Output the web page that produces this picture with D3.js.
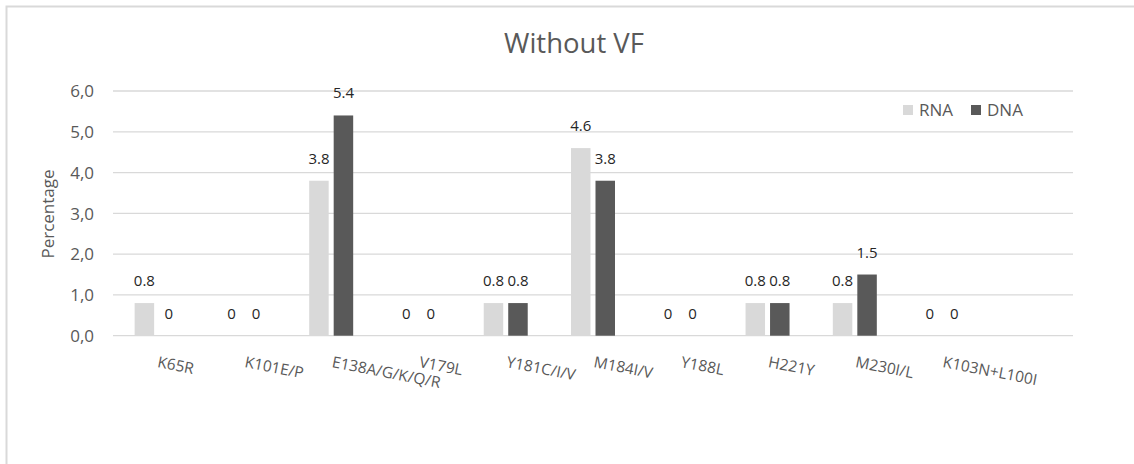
<!DOCTYPE html>
<html>
<head>
<meta charset="utf-8">
<script src="https://cdn.jsdelivr.net/npm/d3@7"></script>
<style>
  html, body { margin: 0; padding: 0; background: #fff; }
  svg { display: block; font-family: "Open Sans", sans-serif; }
</style>
</head>
<body>
<svg id="chart" width="1134" height="464"></svg>
<script>
const categories = ["K65R", "K101E/P", "E138A/G/K/Q/R", "V179L", "Y181C/I/V", "M184I/V", "Y188L", "H221Y", "M230I/L", "K103N+L100I", ""];
const seriesNames = ["RNA", "DNA"];
const rnaValues = [0.8, 0, 3.8, 0, 0.8, 4.6, 0, 0.8, 0.8, 0];
const dnaValues = [0, 0, 5.4, 0, 0.8, 3.8, 0, 0.8, 1.5, 0];
const yTicks = [0, 1, 2, 3, 4, 5, 6];
const title = "Without VF";
const yTitle = "Percentage";

const colors = { RNA: "#d9d9d9", DNA: "#595959" };
const svg = d3.select("#chart");

// border
svg.append("path")
  .attr("d", "M6.5,464 L6.5,6.5 L1134,6.5")
  .attr("fill", "none").attr("stroke", "#d9d9d9").attr("stroke-width", 2);

const plotLeft = 113, plotRight = 1073, plotTop = 91, plotBottom = 335.7;

const x = d3.scaleBand().domain(d3.range(categories.length)).range([plotLeft, plotRight]).padding(0);
const y = d3.scaleLinear().domain([0, 6]).range([plotBottom, plotTop]);

// grid
svg.append("g").selectAll("line").data(yTicks).join("line")
  .attr("x1", plotLeft).attr("x2", plotRight)
  .attr("y1", d => y(d)).attr("y2", d => y(d))
  .attr("stroke", "#d9d9d9").attr("stroke-width", 1.3);

// y axis labels
const yAxis = d3.axisLeft(y).tickValues(yTicks).tickSize(0).tickPadding(0)
  .tickFormat(d => d3.format(".1f")(d).replace(".", ","));
const gy = svg.append("g").attr("transform", `translate(94,0)`).call(yAxis);
gy.select(".domain").remove();
gy.selectAll("text").attr("fill", "#595959").style("font-size", "17px")
  .style("font-family", "Open Sans, sans-serif").attr("dy", "0.34em");

// bars
const barW = 19.5, gap = 5;
const series = [
  { name: "RNA", values: rnaValues, offset: -(gap / 2) - barW },
  { name: "DNA", values: dnaValues, offset: gap / 2 }
];
series.forEach(s => {
  const g = svg.append("g");
  const data = s.values.map((v, i) => ({ v, i }));
  g.selectAll("rect").data(data).join("rect")
    .attr("x", d => x(d.i) + x.bandwidth() / 2 + s.offset)
    .attr("width", barW)
    .attr("y", d => y(d.v))
    .attr("height", d => y(0) - y(d.v))
    .attr("fill", colors[s.name]);
  g.selectAll("text").data(data).join("text")
    .attr("x", d => x(d.i) + x.bandwidth() / 2 + s.offset + barW / 2)
    .attr("y", d => y(d.v) - 17)
    .attr("text-anchor", "middle")
    .attr("fill", "#262626")
    .style("font-size", "15px")
    .text(d => String(d.v));
});

// x labels
svg.append("g").selectAll("text").data(categories.map((c, i) => ({ c, i })).filter(d => d.c)).join("text")
  .attr("transform", d => `translate(${x(d.i) + x.bandwidth() / 2},${367}) rotate(11)`)
  .attr("text-anchor", "start")
  .attr("fill", "#595959")
  .style("font-size", "15.5px")
  .text(d => d.c);

// title
svg.append("text").attr("x", 574).attr("y", 53).attr("text-anchor", "middle")
  .attr("fill", "#595959").style("font-size", "27.5px").text(title);

// y title
svg.append("text").attr("transform", "translate(54,214) rotate(-90)")
  .attr("text-anchor", "middle").attr("fill", "#595959").style("font-size", "17px").text(yTitle);

// legend
const legendX = [903, 971];
const lg = svg.append("g");
seriesNames.forEach((n, i) => {
  lg.append("rect").attr("x", legendX[i]).attr("y", 105).attr("width", 10).attr("height", 10).attr("fill", colors[n]);
  lg.append("text").attr("x", legendX[i] + 16).attr("y", 116).attr("fill", "#595959")
    .style("font-size", "17px").text(n);
});
</script>
</body>
</html>
